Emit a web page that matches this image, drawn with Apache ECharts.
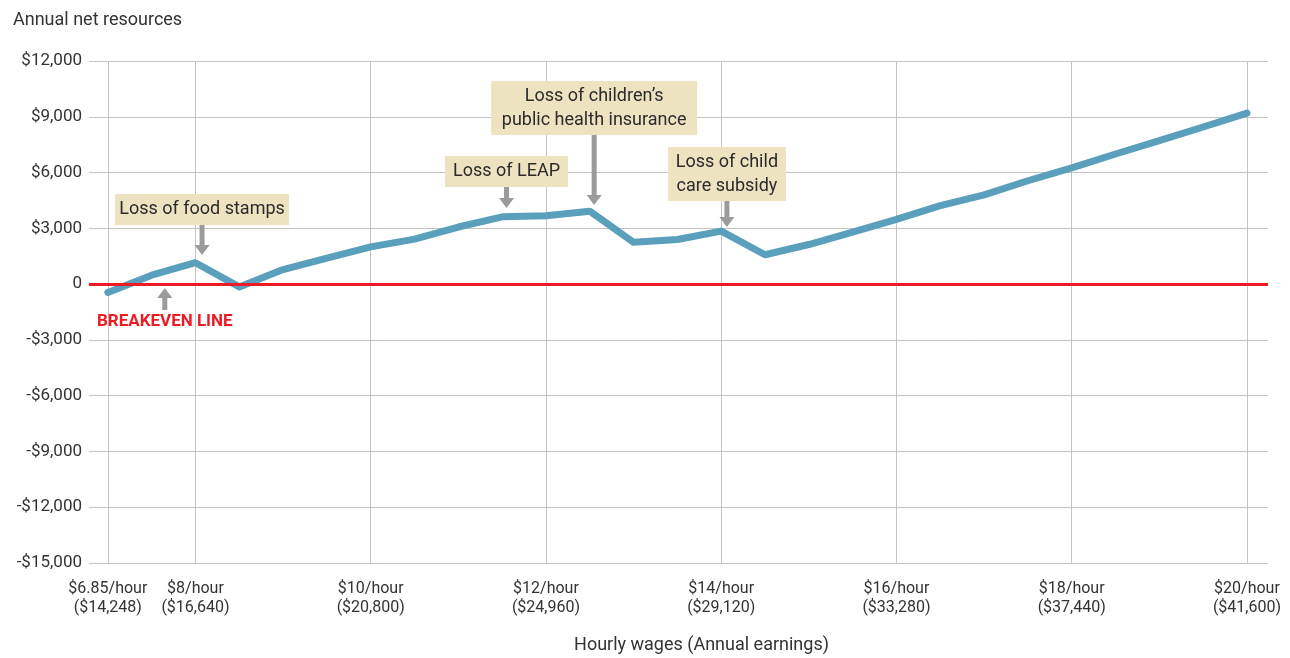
<!DOCTYPE html>
<html>
<head>
<meta charset="utf-8">
<script src="https://cdn.jsdelivr.net/npm/echarts@6/dist/echarts.min.js"></script>
<style>
html,body{margin:0;padding:0;background:#fff;}
#chart{width:1290px;height:658px;}
</style>
</head>
<body>
<div id="chart"></div>
<script>
// ---- data ----
var wages = [6.85, 7.5, 8, 8.5, 9, 9.5, 10, 10.5, 11, 11.5, 12, 12.5, 13, 13.5, 14, 14.5, 15, 15.5, 16, 16.5, 17, 17.5, 18, 18.5, 19, 19.5, 20];
var netResources = [-450, 480, 1150, -150, 780, 1400, 2000, 2420, 3070, 3620, 3680, 3920, 2250, 2400, 2850, 1580, 2130, 2800, 3480, 4220, 4800, 5560, 6250, 7000, 7720, 8450, 9200];
var tickWages = [6.85, 8, 10, 12, 14, 16, 18, 20];
var tickHourLabels = ['$6.85/hour', '$8/hour', '$10/hour', '$12/hour', '$14/hour', '$16/hour', '$18/hour', '$20/hour'];
var tickEarningLabels = ['($14,248)', '($16,640)', '($20,800)', '($24,960)', '($29,120)', '($33,280)', '($37,440)', '($41,600)'];
var annotationTexts = ['Loss of food stamps', 'Loss of LEAP', 'Loss of children\u2019s\npublic health insurance', 'Loss of child\ncare subsidy'];
var annotationAt = [2.15, 9.1, 11.1, 14.13];     // position along wage index
var annotationTip = [1560, 4090, 4250, 3070];     // value the arrow points at
var breakevenText = 'BREAKEVEN LINE';
var breakevenAt = 1.3;
var breakevenTip = -215;

// ---- layout / style config ----
var FONT = '"Roboto", "Liberation Sans", sans-serif';
var annotationArrowLen = [30, 21, 70, 26];
var annotationBoxW = [174, 123, 206, 118];
var ARROW_COLOR = '#9b9b9b';
var BOX_COLOR = '#ede3c1';
var GRID_COLOR = '#c4c4c4';

var tickIdx = tickWages.map(function (w) { return wages.indexOf(w); });
var lineData = netResources.map(function (v, i) { return [i, v]; });

function money(v) {
  if (v === 0) return '0';
  var s = '$' + Math.abs(v).toLocaleString('en-US');
  return v < 0 ? '-' + s : s;
}

function arrowShape(x, tipY, len, up) {
  var hw = 7.5, sw = 2.5, hh = 10;
  var d = up ? -1 : 1;
  var tailY = tipY - d * len;
  var neckY = tipY - d * hh;
  return {
    type: 'polygon',
    shape: {
      points: [
        [x - sw, tailY], [x + sw, tailY], [x + sw, neckY], [x + hw, neckY],
        [x, tipY], [x - hw, neckY], [x - sw, neckY]
      ]
    },
    style: { fill: ARROW_COLOR }
  };
}

var annData = annotationAt.map(function (a, i) { return [a, annotationTip[i], i]; });

var chart = echarts.init(document.getElementById('chart'));
chart.setOption({
  animation: false,
  backgroundColor: '#fff',
  title: {
    text: 'Annual net resources',
    left: 8, top: 6,
    textStyle: { fontFamily: FONT, fontSize: 18, fontWeight: 'normal', color: '#333' }
  },
  grid: { left: 89, right: 22, top: 61, bottom: 95, outerBoundsMode: 'none', containLabel: false },
  xAxis: {
    type: 'value',
    min: -0.43, max: 26.48,
    name: 'Hourly wages (Annual earnings)',
    nameLocation: 'middle',
    nameGap: 73,
    nameTextStyle: { fontFamily: FONT, fontSize: 18, color: '#333', padding: [0, 0, 0, 46] },
    axisLine: { show: true, lineStyle: { color: GRID_COLOR, width: 1 } },
    axisTick: { show: true, length: 10, customValues: tickIdx, lineStyle: { color: GRID_COLOR } },
    splitLine: { show: true, lineStyle: { color: GRID_COLOR, width: 1 } },
    axisLabel: {
      customValues: tickIdx,
      margin: 16,
      fontFamily: FONT, fontSize: 16, color: '#333', lineHeight: 19,
      formatter: function (v) {
        var k = tickIdx.indexOf(Math.round(v));
        return k < 0 ? '' : tickHourLabels[k] + '\n' + tickEarningLabels[k];
      }
    }
  },
  yAxis: {
    type: 'value',
    min: -15000, max: 12000, interval: 3000,
    axisLine: { show: false },
    axisTick: { show: false },
    splitLine: { show: true, lineStyle: { color: GRID_COLOR, width: 1 } },
    axisLabel: { margin: 7, fontFamily: FONT, fontSize: 17, color: '#333', formatter: money }
  },
  series: [
    {
      type: 'line',
      name: 'breakeven',
      z: 1,
      data: [],
      markLine: {
        silent: true, symbol: 'none', label: { show: false },
        lineStyle: { color: '#ed1c24', width: 3, type: 'solid' },
        data: [{ yAxis: 0 }]
      }
    },
    {
      type: 'line',
      name: 'Annual net resources',
      z: 3,
      data: lineData,
      showSymbol: false,
      symbol: 'none',
      lineStyle: { color: '#5a9fbc', width: 7, cap: 'round', join: 'round' }
    },
    {
      type: 'custom',
      name: 'annotations',
      z: 4,
      clip: false,
      coordinateSystem: 'cartesian2d',
      encode: { x: 0, y: 1 },
      data: annData,
      renderItem: function (params, api) {
        var i = api.value(2);
        var p = api.coord([api.value(0), api.value(1)]);
        var len = annotationArrowLen[i];
        var tailY = p[1] - len;
        var text = annotationTexts[i];
        var lines = text.split('\n').length;
        var h = lines === 1 ? 31 : 54;
        var w = annotationBoxW[i];
        return {
          type: 'group',
          children: [
            arrowShape(p[0], p[1], len, false),
            { type: 'rect', shape: { x: p[0] - w / 2, y: tailY - h, width: w, height: h }, style: { fill: BOX_COLOR } },
            {
              type: 'text',
              style: {
                text: text, x: p[0], y: tailY - h / 2,
                align: 'center', verticalAlign: 'middle',
                fontFamily: FONT, fontSize: 18, lineHeight: 24, fill: '#2b2b2b'
              }
            }
          ]
        };
      }
    },
    {
      type: 'custom',
      name: 'breakeven label',
      z: 4,
      clip: false,
      coordinateSystem: 'cartesian2d',
      encode: { x: 0, y: 1 },
      data: [[breakevenAt, breakevenTip]],
      renderItem: function (params, api) {
        var p = api.coord([api.value(0), api.value(1)]);
        return {
          type: 'group',
          children: [
            arrowShape(p[0], p[1], 22, true),
            {
              type: 'text',
              style: {
                text: breakevenText, x: p[0], y: p[1] + 34,
                align: 'center', verticalAlign: 'middle',
                fontFamily: FONT, fontSize: 17, fontWeight: 'bold', fill: '#ed1c24'
              }
            }
          ]
        };
      }
    }
  ]
});
</script>
</body>
</html>
